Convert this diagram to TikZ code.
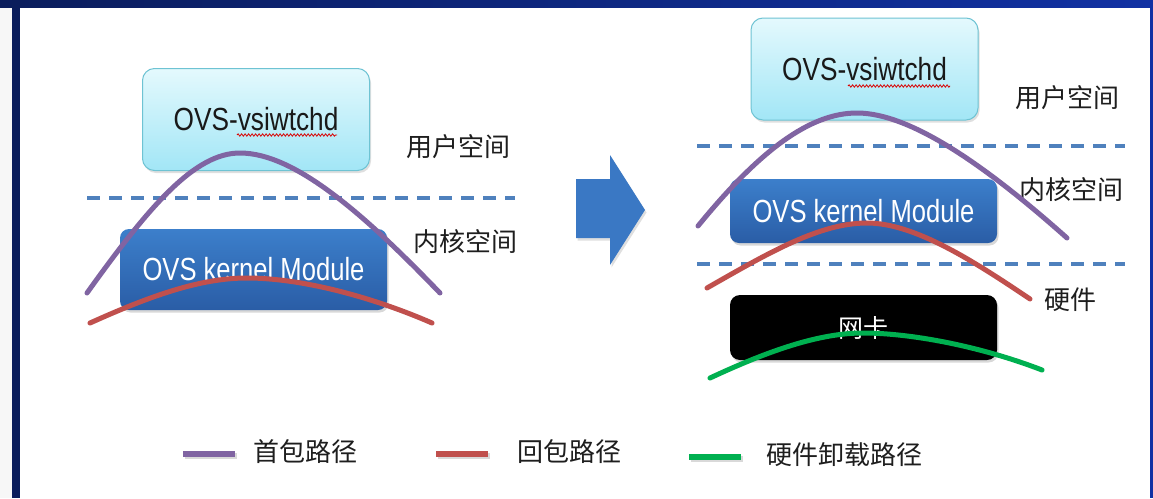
\documentclass[tikz,border=0pt]{standalone}
\usepackage{fontspec}
\setmainfont{Liberation Sans}
\newfontfamily\cjk{Noto Sans CJK SC}
\usetikzlibrary{shadows,decorations.pathmorphing,calc}
\definecolor{navyA}{HTML}{0A1D5C}
\definecolor{navyB}{HTML}{1131A3}
\definecolor{cyantop}{HTML}{E4F9FD}
\definecolor{cyanbot}{HTML}{A2E6F6}
\definecolor{cyanedge}{HTML}{6EC3D3}
\definecolor{kbtop}{HTML}{3C7FCB}
\definecolor{kbbot}{HTML}{2A5DA6}
\definecolor{sepblue}{HTML}{4F81BD}
\definecolor{pathpurple}{HTML}{8064A2}
\definecolor{pathred}{HTML}{C0504D}
\definecolor{pathgreen}{HTML}{00B050}
\definecolor{arrowblue}{HTML}{3A78C4}
\definecolor{txt}{HTML}{1E1E1E}
\newcommand{\narrowtxt}[2]{\scalebox{#1}[1]{#2}}
\begin{document}
\begin{tikzpicture}[x=1pt,y=-1pt,
  userbox/.style={rounded corners=12pt, draw=cyanedge, line width=1pt,
    top color=cyantop, bottom color=cyanbot, minimum width=227pt, minimum height=102pt,
    inner sep=0pt, text=black!90, font=\fontsize{32}{36}\selectfont,
    drop shadow={opacity=0.25, shadow xshift=1.5pt, shadow yshift=-2.5pt}},
  kernbox/.style={rounded corners=9pt, draw=none,
    top color=kbtop, bottom color=kbbot, minimum width=267pt, inner sep=0pt,
    text=white, font=\fontsize{32}{36}\selectfont,
    drop shadow={opacity=0.3, shadow xshift=1.5pt, shadow yshift=-2.5pt}},
  nicbox/.style={rounded corners=10pt, fill=black, minimum width=267pt, minimum height=65pt,
    inner sep=0pt, text=white, font=\cjk\fontsize{25}{29}\selectfont,
    drop shadow={opacity=0.3, shadow xshift=1.5pt, shadow yshift=-2.5pt}},
  lbl/.style={text=txt, font=\cjk\fontsize{26}{30}\selectfont, inner sep=0pt},
  sep/.style={draw=sepblue, line width=3.5pt, dash pattern=on 13pt off 9pt},
  pathline/.style={line width=5pt, line cap=round},
  legline/.style={line width=6pt,
    preaction={draw=black, opacity=0.15, line width=6pt, transform canvas={xshift=1.5pt,yshift=-2pt}}},
  squig/.style={draw=red!85!black, line width=0.8pt, decorate,
    decoration={snake, amplitude=1.2pt, segment length=3.5pt}}
]
\useasboundingbox (0,0) rectangle (1153,498);
% frame
\fill[white] (0,0) rectangle (1153,498);
\fill[gray!6] (0,0) rectangle (12,498);
\shade[left color=navyA, right color=navyB] (0,0) rectangle (1153,7);
\fill[navyA] (12,0) rectangle (20,498);
\fill[navyB] (1150,0) rectangle (1153,498);

% ---------- left diagram ----------
\node[userbox] (lu) at (256,119.5) {\narrowtxt{0.82}{OVS-vsiwtchd}};
\draw[squig] (237,135) -- (337,135);
\draw[sep] (87,198) -- (515,198);
\node[kernbox, minimum height=81pt] (lk) at (253.5,269.5) {\narrowtxt{0.8}{OVS kernel Module}};
\node[lbl] (lus) at (458,147) {用户空间};
\node[lbl] (lks) at (465,242) {内核空间};
\draw[pathline, pathpurple] (87,293) .. controls (150,205) and (195,153) .. (240,153)
   .. controls (295,153) and (365,215) .. (440,293);
\draw[pathline, pathred] (90,323) .. controls (150,296) and (200,278) .. (247,278)
   .. controls (300,278) and (370,296) .. (432,323);

% ---------- arrow ----------
\fill[arrowblue, drop shadow={opacity=0.25, shadow xshift=1.5pt, shadow yshift=-2.5pt}]
  (576,179) -- (610,179) -- (610,155) -- (645,210) -- (610,265) -- (610,238) -- (576,238) -- cycle;

% ---------- right diagram ----------
\node[userbox] (ru) at (864.5,69) {\narrowtxt{0.82}{OVS-vsiwtchd}};
\draw[squig] (848,86) -- (950,86);
\draw[sep] (697,146) -- (1125,146);
\node[kernbox, minimum height=64pt] (rk) at (863.5,211) {\narrowtxt{0.8}{OVS kernel Module}};
\draw[sep] (697,264) -- (1125,264);
\node[nicbox] (nic) at (863.5,327.5) {网卡};
\node[lbl] (rus) at (1067,98) {用户空间};
\node[lbl] (rks) at (1071,190) {内核空间};
\node[lbl] (hw) at (1070,300) {硬件};
\draw[pathline, pathpurple] (698,226) .. controls (760,150) and (810,113) .. (857,113)
   .. controls (910,113) and (985,165) .. (1067,238);
\draw[pathline, pathred] (707,288) .. controls (770,252) and (820,223) .. (867,223)
   .. controls (915,223) and (975,262) .. (1030,299);
\draw[pathline, pathgreen] (710,378) .. controls (770,350) and (820,333) .. (863,333)
   .. controls (910,333) and (980,346) .. (1042,370);

% ---------- legend ----------
\coordinate (lp1) at (183,454); \coordinate (lp2) at (235,454);
\coordinate (lr1) at (436,454); \coordinate (lr2) at (488,454);
\coordinate (lg1) at (689,457); \coordinate (lg2) at (741,457);
\draw[legline, pathpurple] (lp1) -- (lp2);
\draw[legline, pathred] (lr1) -- (lr2);
\draw[legline, pathgreen] (lg1) -- (lg2);
\node[lbl, anchor=west] (tp) at (253,452) {首包路径};
\node[lbl, anchor=west] (tr) at (517,452) {回包路径};
\node[lbl, anchor=west] (tg) at (766,455) {硬件卸载路径};
\end{tikzpicture}
\end{document}
